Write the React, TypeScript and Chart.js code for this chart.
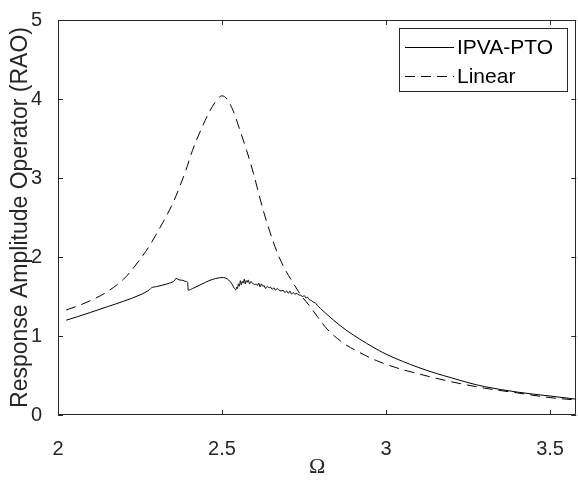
import React, { useEffect, useRef } from "react";
import { Chart, registerables } from "chart.js";

Chart.register(...registerables);

// ---- Data ----
const omegaIpva = [
  2.025, 2.06, 2.1, 2.15, 2.2, 2.25, 2.28, 2.285, 2.3, 2.32, 2.34, 2.355, 2.36, 2.365, 2.37, 2.38, 2.39, 2.395,
  2.397, 2.41, 2.43, 2.45, 2.47, 2.49, 2.5, 2.51, 2.52, 2.53, 2.538, 2.542,
  2.545, 2.547, 2.55, 2.553, 2.556, 2.559, 2.562, 2.565, 2.568, 2.571, 2.574, 2.577, 2.58, 2.584, 2.588,
  2.592, 2.596, 2.6, 2.604, 2.608, 2.612, 2.616, 2.62, 2.624, 2.628, 2.633, 2.638, 2.643, 2.648, 2.653,
  2.658, 2.663, 2.668, 2.674, 2.68, 2.686, 2.692, 2.697, 2.702, 2.707, 2.712, 2.717, 2.722, 2.728, 2.734,
  2.74, 2.746, 2.751, 2.756, 2.761, 2.766, 2.772, 2.778, 2.784, 2.79, 2.8,
  2.84, 2.88, 2.92, 2.96, 3.0, 3.05, 3.1, 3.15, 3.2, 3.25, 3.3, 3.4, 3.5, 3.58,
];
const raoIpva = [
  1.2, 1.245, 1.3, 1.37, 1.44, 1.52, 1.59, 1.61, 1.625, 1.645, 1.67, 1.7, 1.73, 1.72, 1.71, 1.705, 1.69, 1.68,
  1.58, 1.6, 1.64, 1.68, 1.715, 1.735, 1.74, 1.735, 1.71, 1.66, 1.6, 1.585,
  1.62, 1.6, 1.66, 1.63, 1.7, 1.65, 1.69, 1.67, 1.72, 1.66, 1.7, 1.68, 1.71, 1.66, 1.69,
  1.67, 1.66, 1.65, 1.66, 1.64, 1.67, 1.62, 1.66, 1.63, 1.64, 1.6, 1.63, 1.61, 1.62, 1.59,
  1.61, 1.58, 1.6, 1.58, 1.57, 1.58, 1.55, 1.57, 1.54, 1.57, 1.53, 1.55, 1.53, 1.54, 1.52,
  1.515, 1.5, 1.51, 1.48, 1.49, 1.46, 1.45, 1.43, 1.42, 1.39, 1.35,
  1.2, 1.07, 0.96, 0.86, 0.77, 0.68, 0.6, 0.53, 0.47, 0.41, 0.36, 0.29, 0.24, 0.2,
];
const omegaLinear = [
  2.025, 2.06, 2.1, 2.15, 2.2, 2.22, 2.25, 2.28, 2.32, 2.35, 2.372, 2.39, 2.41, 2.44, 2.463, 2.485, 2.5,
  2.515, 2.534, 2.555, 2.575, 2.595, 2.625, 2.645, 2.668, 2.69, 2.717, 2.74, 2.768, 2.79, 2.82, 2.87, 2.92,
  2.97, 3.03, 3.1, 3.2, 3.3, 3.4, 3.5, 3.58,
];
const raoLinear = [
  1.33, 1.38, 1.45, 1.56, 1.72, 1.81, 1.97, 2.15, 2.44, 2.68, 2.9, 3.1, 3.35, 3.65, 3.85, 3.99, 4.04,
  4.0, 3.85, 3.6, 3.35, 3.07, 2.6, 2.33, 2.06, 1.86, 1.67, 1.52, 1.375, 1.25, 1.09, 0.91, 0.79,
  0.69, 0.6, 0.52, 0.42, 0.34, 0.28, 0.22, 0.19,
];
const seriesLabels = ["IPVA-PTO", "Linear"];
const xTicks = [2, 2.5, 3, 3.5];
const yTicks = [0, 1, 2, 3, 4, 5];

const SANS = '"Liberation Sans", Arial, Helvetica, sans-serif';
const SERIF = '"Liberation Serif", "Times New Roman", serif';
const AXIS_COLOR = "#262626";

const framePlugin = {
  id: "matlabFrame",
  afterDatasetsDraw(chart: any) {
    const { ctx, chartArea } = chart;
    const { left, right, top, bottom } = chartArea;
    const xs = chart.scales.x;
    const ys = chart.scales.y;
    ctx.save();
    ctx.strokeStyle = AXIS_COLOR;
    ctx.lineWidth = 1;
    ctx.beginPath();
    ctx.rect(Math.round(left) + 0.5, Math.round(top) + 0.5, Math.round(right - left) - 1, Math.round(bottom - top) - 1);
    ctx.stroke();
    const tl = 5;
    ctx.beginPath();
    xTicks.forEach((v) => {
      const px = Math.round(xs.getPixelForValue(v)) + 0.5;
      ctx.moveTo(px, bottom);
      ctx.lineTo(px, bottom - tl);
      ctx.moveTo(px, top);
      ctx.lineTo(px, top + tl);
    });
    yTicks.forEach((v) => {
      const py = Math.round(ys.getPixelForValue(v)) + 0.5;
      ctx.moveTo(left, py);
      ctx.lineTo(left + tl, py);
      ctx.moveTo(right, py);
      ctx.lineTo(right - tl, py);
    });
    ctx.stroke();
    ctx.restore();
  },
  afterDraw(chart: any) {
    const { ctx } = chart;
    const bx = 399, by = 28, bw = 168, bh = 63;
    ctx.save();
    ctx.fillStyle = "#ffffff";
    ctx.fillRect(bx, by, bw, bh);
    ctx.strokeStyle = AXIS_COLOR;
    ctx.lineWidth = 1;
    ctx.strokeRect(bx + 0.5, by + 0.5, bw, bh);
    chart.data.datasets.forEach((ds: any, i: number) => {
      const cy = 47 + i * 29;
      ctx.strokeStyle = ds.borderColor;
      ctx.lineWidth = 1;
      ctx.setLineDash(ds.borderDash || []);
      ctx.beginPath();
      ctx.moveTo(405, cy + 0.5);
      ctx.lineTo(454, cy + 0.5);
      ctx.stroke();
      ctx.setLineDash([]);
      ctx.fillStyle = "#000000";
      ctx.font = `21px ${SANS}`;
      ctx.textBaseline = "middle";
      ctx.textAlign = "left";
      ctx.fillText(ds.label, 457, cy + 1);
    });
    ctx.restore();
  },
};

export default function App() {
  const ref = useRef<HTMLCanvasElement | null>(null);
  useEffect(() => {
    document.body.style.margin = "0";
    const canvas = ref.current;
    if (!canvas) return;
    const chart = new Chart(canvas, {
      type: "line",
      data: {
        datasets: [
          {
            label: seriesLabels[0],
            data: omegaIpva.map((x, i) => ({ x, y: raoIpva[i] })),
            borderColor: "#000000",
            borderWidth: 1,
            pointRadius: 0,
            fill: false,
            cubicInterpolationMode: "monotone",
          },
          {
            label: seriesLabels[1],
            data: omegaLinear.map((x, i) => ({ x, y: raoLinear[i] })),
            borderColor: "#000000",
            borderWidth: 1,
            borderDash: [10, 6],
            pointRadius: 0,
            fill: false,
            cubicInterpolationMode: "monotone",
          },
        ],
      },
      options: {
        animation: false,
        responsive: false,
        maintainAspectRatio: false,
        layout: { padding: { top: 15, right: 1, left: 0, bottom: 0 } },
        plugins: { legend: { display: false }, tooltip: { enabled: false } },
        scales: {
          x: {
            type: "linear",
            min: 2,
            max: 3.58,
            afterBuildTicks: (s: any) => {
              s.ticks = xTicks.map((v) => ({ value: v }));
            },
            afterFit: (s: any) => {
              s.height = 65;
            },
            grid: { display: false },
            border: { display: false },
            ticks: {
              color: AXIS_COLOR,
              font: { family: SANS, size: 20 },
              padding: 14,
              maxRotation: 0,
              autoSkip: false,
              callback: (v: any) => String(v),
            },
            title: {
              display: true,
              text: "Ω",
              color: AXIS_COLOR,
              font: { family: SERIF, size: 22 },
              padding: { top: 0, bottom: 0 },
            },
          },
          y: {
            type: "linear",
            min: 0,
            max: 5,
            afterBuildTicks: (s: any) => {
              s.ticks = yTicks.map((v) => ({ value: v }));
            },
            afterFit: (s: any) => {
              s.width = 58;
            },
            grid: { display: false },
            border: { display: false },
            ticks: {
              color: AXIS_COLOR,
              font: { family: SANS, size: 20 },
              padding: 8,
              callback: (v: any) => String(v),
            },
            title: {
              display: true,
              text: "Response Amplitude Operator (RAO)",
              color: AXIS_COLOR,
              font: { family: SANS, size: 23 },
              padding: { top: 7, bottom: 0 },
            },
          },
        },
      },
      plugins: [framePlugin],
    } as any);
    return () => chart.destroy();
  }, []);
  return <canvas ref={ref} width={578} height={480} style={{ display: "block", width: 578, height: 480 }} />;
}
